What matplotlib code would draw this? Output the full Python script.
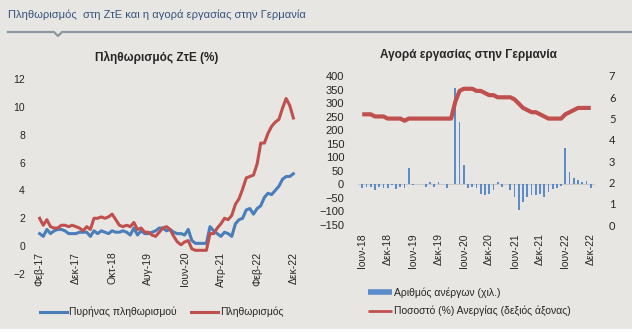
import numpy as np
import matplotlib.pyplot as plt
from matplotlib.lines import Line2D
from matplotlib.patches import Rectangle

plt.rcParams['font.family'] = ['Liberation Sans', 'DejaVu Sans']

greek_months = ['Ιαν', 'Φεβ', 'Μαρ', 'Απρ', 'Μαϊ', 'Ιουν',
                'Ιουλ', 'Αυγ', 'Σεπ', 'Οκτ', 'Νοε', 'Δεκ']


def month_labels(y0, m0, n):
    out = []
    for k in range(n):
        m = (m0 - 1 + k) % 12
        y = y0 + (m0 - 1 + k) // 12
        out.append(greek_months[m] + '-' + str(y)[2:])
    return out


# ΖτΕ: Φεβ-17 .. Δεκ-22 (ετήσια μεταβολή %)
hicp = [2.0, 1.5, 1.9, 1.4, 1.3, 1.3, 1.5, 1.5, 1.4, 1.5, 1.4,
        1.3, 1.1, 1.4, 1.2, 2.0, 2.0, 2.1, 2.0, 2.1, 2.3, 1.9, 1.5,
        1.4, 1.5, 1.4, 1.7, 1.2, 1.3, 1.0, 1.0, 0.8, 0.7, 1.0, 1.3,
        1.4, 1.2, 0.7, 0.3, 0.1, 0.3, 0.4, -0.2, -0.3, -0.3, -0.3, -0.3,
        0.9, 0.9, 1.3, 1.6, 2.0, 1.9, 2.2, 3.0, 3.4, 4.1, 4.9, 5.0,
        5.1, 5.9, 7.4, 7.4, 8.1, 8.6, 8.9, 9.1, 9.9, 10.6, 10.1, 9.2]
core = [0.9, 0.7, 1.2, 0.9, 1.1, 1.2, 1.2, 1.1, 0.9, 0.9, 0.9,
        1.0, 1.0, 1.0, 0.7, 1.1, 0.9, 1.1, 1.0, 0.9, 1.1, 1.0, 1.0,
        1.1, 1.0, 0.8, 1.3, 0.8, 1.1, 0.9, 0.9, 1.0, 1.1, 1.3, 1.3,
        1.1, 1.2, 1.0, 0.9, 0.9, 0.8, 1.2, 0.4, 0.2, 0.2, 0.2, 0.2,
        1.4, 1.1, 0.9, 0.7, 1.0, 0.9, 0.7, 1.6, 1.9, 2.0, 2.6, 2.7,
        2.3, 2.7, 2.9, 3.5, 3.8, 3.7, 4.0, 4.3, 4.8, 5.0, 5.0, 5.2]
infl_months = month_labels(2017, 2, len(hicp))

# Γερμανία: Ιουν-18 .. Δεκ-22
unemp_change = [-15, -8, -10, -20, -10, -15, -12, -2, -18, -8, -15, 60,
                -1, 1, 0, -10, 8, -8, 10, 3, -15, 2, 355, 230,
                72, -15, -10, -15, -35, -38, -35, -22, 8, -10, 0, -20,
                -45, -95, -65, -45, -38, -38, -35, -45, -30, -18, -12, -5,
                133, 45, 25, 15, 8, 12, -15]
unemp_rate = [5.2, 5.2, 5.2, 5.1, 5.1, 5.1, 5.0, 5.0, 5.0, 5.0, 4.9, 5.0,
              5.0, 5.0, 5.0, 5.0, 5.0, 5.0, 5.0, 5.0, 5.0, 5.0, 5.8, 6.3,
              6.4, 6.4, 6.4, 6.3, 6.3, 6.2, 6.1, 6.1, 6.0, 6.0, 6.0, 6.0,
              5.9, 5.7, 5.5, 5.4, 5.3, 5.3, 5.2, 5.1, 5.0, 5.0, 5.0, 5.0,
              5.2, 5.3, 5.4, 5.5, 5.5, 5.5, 5.5]
lab_months = month_labels(2018, 6, len(unemp_rate))

BG = '#e7e6e2'
BLUE = '#4a7ebb'
RED = '#c0504d'
TXT = '#262626'

W, H = 632, 332
fig = plt.figure(figsize=(W / 100, H / 100), dpi=100, facecolor=BG)


def box(x0, y0, x1, y1):
    return [x0 / W, 1 - y1 / H, (x1 - x0) / W, (y1 - y0) / H]


# κεφαλίδα
fig.text(8 / W, 1 - 15 / H, 'Πληθωρισμός  στη ΖτΕ και η αγορά εργασίας στην Γερμανία',
         color='#35527d', fontsize=8, va='center', ha='left')
hx = np.array([8, 54, 58, 62, 632]) / W
hy = 1 - np.array([32, 32, 36, 32, 32]) / H
fig.add_artist(Line2D(hx, hy, color='#8d97a3', lw=1.6))
fig.add_artist(Rectangle((0, 0), 1, 3 / H, transform=fig.transFigure,
                         color='white', zorder=0))

# --- αριστερό: πληθωρισμός ---
ax = fig.add_axes(box(36, 79, 297, 274))
ax.set_facecolor('none')
for s in ax.spines.values():
    s.set_visible(False)
# ο οριζόντιος άξονας κόβει στο 0 (πριν ορίσουμε τις ετικέτες)
ax.spines['bottom'].set_position(('data', 0))
x1 = np.arange(len(hicp))
ax.plot(x1, core, color=BLUE, lw=2.2, label='Πυρήνας πληθωρισμού')
ax.plot(x1, hicp, color=RED, lw=2.2, label='Πληθωρισμός')
ax.set_xlim(-1, len(hicp))
ax.set_ylim(-2, 12)
ax.set_yticks(range(-2, 13, 2))
tk = list(range(0, len(hicp), 10))
ax.set_xticks(tk)
ax.set_xticklabels([infl_months[i] for i in tk], rotation=90)
ax.tick_params(axis='x', length=0, pad=4, labelsize=7.5, labelcolor=TXT)
ax.tick_params(axis='y', length=0, pad=8, labelsize=7.5, labelcolor=TXT)
fig.text(157 / W, 1 - 57 / H, 'Πληθωρισμός ΖτΕ (%)', fontsize=8.5,
         fontweight='bold', ha='center', va='center', color=TXT)
fig.legend(handles=ax.get_lines(), loc='center left',
           bbox_to_anchor=(31 / W, 1 - 312 / H), ncol=2, frameon=False,
           fontsize=7.5, handlelength=2.6, handletextpad=0.15,
           columnspacing=1.4, labelcolor=TXT)

# --- δεξί: αγορά εργασίας ---
ax2 = fig.add_axes(box(358, 76, 595, 225))
ax2.set_facecolor('none')
x2 = np.arange(len(unemp_rate))
ax2.axhline(0, color='#c9c9c9', lw=0.8, zorder=1)
bars = ax2.bar(x2, unemp_change, width=0.42, color='#5b8bc9', zorder=2,
               label='Αριθμός ανέργων (χιλ.)')
ax2.set_xlim(-1, len(unemp_rate))
ax2.set_ylim(-150, 400)
ax2.set_yticks(range(-150, 401, 50))
tk2 = list(range(0, len(unemp_rate), 6))
ax2.set_xticks(tk2)
ax2.set_xticklabels([lab_months[i] for i in tk2], rotation=90)
ax2.tick_params(axis='x', length=0, pad=6, labelsize=7.5, labelcolor=TXT)
ax2.tick_params(axis='y', length=0, pad=10, labelsize=8, labelcolor=TXT)

ax2r = ax2.twinx()
ax2r.plot(x2, unemp_rate, color=RED, lw=3, solid_capstyle='butt')
ax2r.set_ylim(0, 7)
ax2r.set_yticks(range(0, 8))
ax2r.tick_params(axis='y', length=0, pad=10, labelsize=8, labelcolor=TXT)
for lab in ax2r.get_yticklabels():
    lab.set_family(['Lato', 'DejaVu Sans'])
for a in (ax2, ax2r):
    for s in a.spines.values():
        s.set_visible(False)

fig.text(468 / W, 1 - 55 / H, 'Αγορά εργασίας στην Γερμανία', fontsize=8.5,
         fontweight='bold', ha='center', va='center', color=TXT)
h_bar = Line2D([], [], color='#5b8bc9', lw=4, solid_capstyle='butt')
h_line = Line2D([], [], color=RED, lw=2, solid_capstyle='butt')
fig.legend([h_bar, h_line],
           ['Αριθμός ανέργων (χιλ.)', 'Ποσοστό (%) Ανεργίας (δεξιός άξονας)'],
           loc='upper left', bbox_to_anchor=(359 / W, 1 - 278 / H),
           frameon=False, fontsize=7.5, handlelength=2.3,
           handletextpad=0.15, labelspacing=0.75, labelcolor=TXT)

fig.savefig('out.png', dpi=100, facecolor=BG)
